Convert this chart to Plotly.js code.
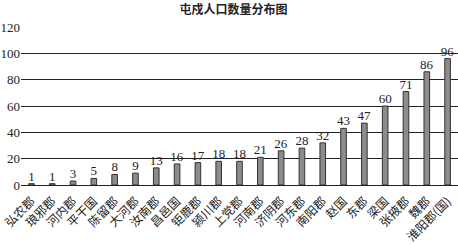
<!DOCTYPE html>
<html><head><meta charset="utf-8">
<script src="https://cdn.plot.ly/plotly-3.0.1.min.js"></script>
<style>html,body{margin:0;padding:0;background:#fff}#c{width:458px;height:245px}</style>
</head><body><div id="c"></div>
<script>
const categories = ["弘农郡","琅邪郡","河内郡","平干国","陈留郡","大河郡","汝南郡","昌邑国","钜鹿郡","颍川郡","上党郡","河南郡","济阴郡","河东郡","南阳郡","赵国","东郡","梁国","张掖郡","魏郡","淮阳郡(国)"];
const values = [1,1,3,5,8,9,13,16,17,18,18,21,26,28,32,43,47,60,71,86,96];
const yTicks = [0,20,40,60,80,100,120];
const titleText = "屯戍人口数量分布图";

const serif = "Liberation Serif, Times New Roman, serif";
const cjk = "Noto Sans CJK SC, sans-serif";

Plotly.newPlot('c', [{
  type: 'bar',
  x: categories,
  y: values,
  text: values.map(String),
  textposition: 'outside',
  constraintext: 'none',
  cliponaxis: false,
  textfont: {family: serif, size: 13, color: '#222'},
  outsidetextfont: {family: serif, size: 13, color: '#222'},
  marker: {color: '#8c8c8c', line: {color: '#333', width: 1}},
  hoverinfo: 'none'
}], {
  width: 458, height: 245,
  margin: {l: 21, r: 0, t: 27, b: 60, pad: 0},
  paper_bgcolor: '#fff', plot_bgcolor: '#fff',
  bargap: 0.73,
  showlegend: false,
  title: {text: titleText, x: 0.51, xanchor: 'center', y: 0.962, yanchor: 'middle',
          font: {family: cjk, size: 12, color: '#222', weight: 'bold'}},
  xaxis: {
    type: 'category', tickangle: -45, showgrid: false, showline: false, ticks: '',
    ticklabelstandoff: 6,
    tickfont: {family: cjk, size: 12, color: '#222'}, automargin: false
  },
  yaxis: {
    range: [0, 120], tickvals: yTicks, ticktext: yTicks.map(String),
    showgrid: true, gridcolor: '#222', gridwidth: 1,
    zeroline: true, zerolinecolor: '#222', zerolinewidth: 1,
    showline: false, ticks: '',
    tickfont: {family: serif, size: 13, color: '#222'}, automargin: false
  }
}, {displayModeBar: false, staticPlot: true});
</script></body></html>
